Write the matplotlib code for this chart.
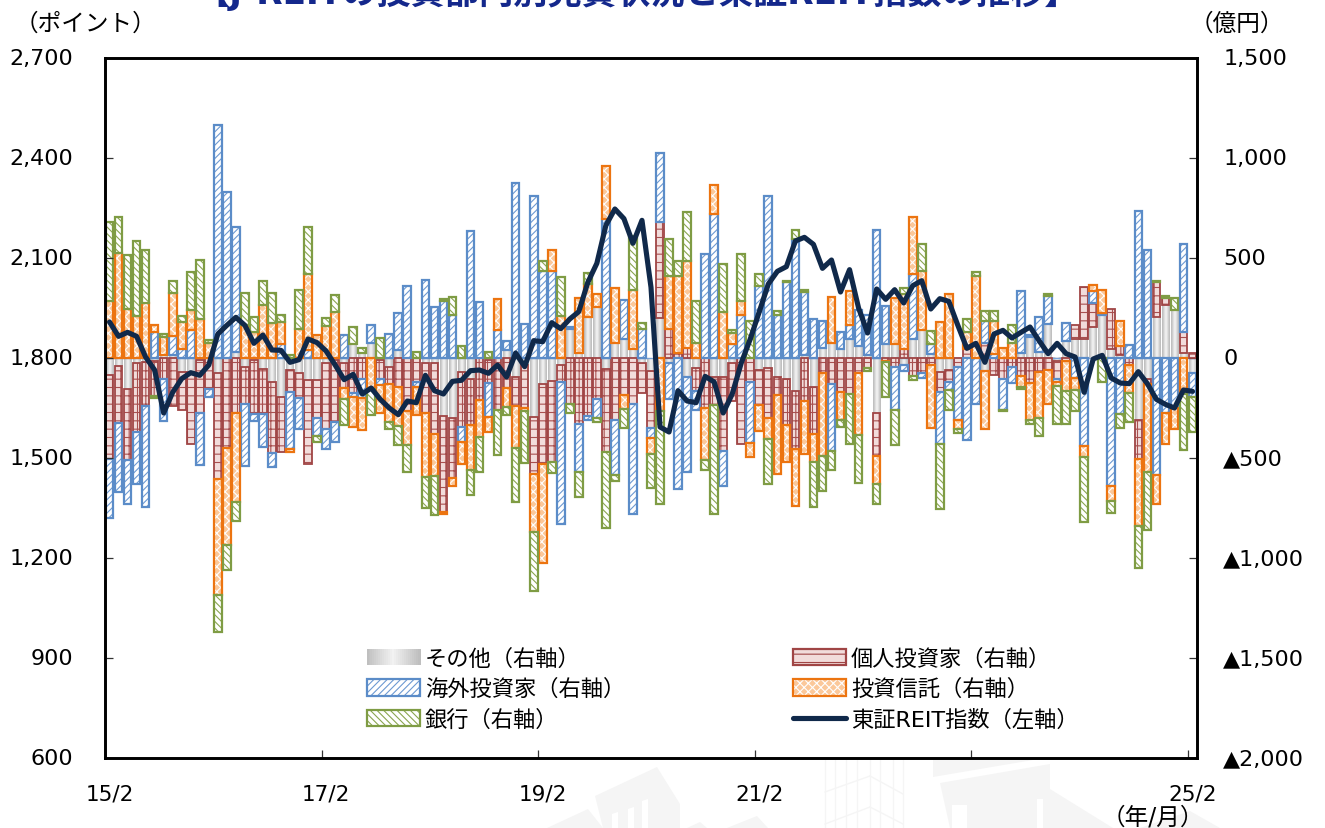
import numpy as np
import matplotlib
matplotlib.use("Agg")
import matplotlib.pyplot as plt
from matplotlib.patches import Patch, Rectangle, Polygon
from matplotlib.lines import Line2D
from matplotlib.legend_handler import HandlerBase, HandlerTuple
from matplotlib.transforms import ScaledTranslation

plt.rcParams['font.family'] = ['DejaVu Sans', 'Noto Sans CJK JP']
plt.rcParams['hatch.linewidth'] = 0.8

# 億円 (right axis), 15/2 .. 25/2 monthly
other = [-86, -40, -155, -26, -22, -17, 17, 17, -69, -69, -9, 0, -74, 0, 29, -43, -9, -55, -120, -194,
         -60, -77, -112, -112, -26, -9, -26, 69, 26, 77, -9, -43, 38, 0, 0, -26, -26, -292, -301, -72,
         -107, 0, -9, 0, 38, -95, -34, -296, -132, -115, -34, 146, 26, 206, 255, -55, 77, 95, 43, -26,
         -65, 198, -26, 0, -95, -52, 0, -95, -95, -26, 0, 0, -60, -48, -95, -103, -167, 17, -146, 52,
         77, 43, 95, 60, 17, -275, 69, 69, -34, 95, 138, 22, -69, -60, 0, 0, 0, -64, 0, 0,
         0, 26, 103, 31, 172, -17, 86, 95, 95, 155, 215, 43, 17, 0, -310, -103, 206, 267, 241, 26, -77]
individual = [-421, -287, -353, -344, -218, -172, -103, -241, -189, -361, -267, -155, -533, -452, -275, -186, -272, -225, -353, -275,
              -112, -124, -418, -189, -327, -310, -124, -177, -103, 0, -95, -86, -146, -267, -120, -249, -353, -476, -301, -272,
              -229, -212, -115, -258, -150, -146, -218, -284, -396, -406, -86, -232, -332, -292, -206, -415, -310, -186, -229, -151,
              -284, 482, 146, 26, 48, -115, -249, -141, -370, -189, -430, -120, -177, -253, -89, -232, -286, -215, -232, -77,
              -132, -172, -181, -77, -52, -215, -17, -46, 43, -91, -77, -34, -103, -60, -46, 43, 0, 77, -86, -103,
              -43, -91, -124, -69, -60, -86, -17, 69, 258, 120, 0, 203, 43, -34, -194, -29, 175, 34, 0, 103, 26]
foreign = [-292, -344, -224, -258, -507, 132, -212, 91, 43, 138, -258, -40, 1166, 829, 624, -310, -34, -163, -74, 69,
           -284, -155, 38, -89, -100, -103, 115, -17, -95, 86, -29, 120, 186, 358, -26, 392, 255, 287, 215, -77,
           633, 279, -169, 138, 48, 877, 169, 808, 435, 435, -710, 9, -236, -17, -95, 697, -275, 194, -550, 143,
           -52, 347, -181, -657, -473, -95, 521, 722, -177, 69, 215, -304, 361, 808, 215, 378, 593, 315, 194, 134,
           -335, 89, 72, 181, 198, 640, 189, -215, -31, 323, -21, 46, -258, -40, -263, -408, -232, 108, 22, -155,
           -83, 310, 14, 172, 138, -17, 91, -98, -439, 60, 9, -640, -280, 65, 734, 538, -585, -275, -249, 442, -120]
trust = [284, 525, 246, 212, 275, 34, 86, 218, 138, 100, 193, 77, -576, -482, -447, 163, 129, 263, 177, 112,
         -12, 146, 380, 115, 158, 232, -57, -150, -160, -155, -143, -193, -193, -169, -141, -318, -210, -14, -40, -107,
         -224, -184, -77, 155, -96, -210, -14, -292, -495, 107, 210, 0, 272, 163, 64, 261, 272, -67, 298, 0,
         -81, -267, 263, 384, 439, 77, -261, 141, 232, 55, 72, -69, -127, -103, -397, -184, -287, -263, -141, -413,
         227, -138, 169, -310, 0, -138, -5, 229, 275, 287, 298, -315, 181, 318, -46, 89, 409, -289, 163, 52,
         77, -52, -186, -232, -172, -22, -150, -60, -57, 31, 115, -74, 124, -143, -335, -440, -146, -155, -107, -181, 0]
bank = [396, 181, 270, 373, 263, -12, 17, 60, 29, 193, 298, 14, -189, -124, -91, 163, 74, 124, 150, 34,
        17, 193, 236, -28, 40, 81, -126, 86, 22, -129, 98, -31, -95, -132, 31, -158, -198, 10, 89, 60,
        -126, -172, 31, -227, -41, -267, -261, -294, 52, -52, 194, -43, -129, 57, -21, -378, -31, -96, 270, 34,
        -169, -464, 184, 77, 241, 206, -48, -544, 236, 14, 234, 186, 57, -227, 22, 9, 46, 7, -225, -177,
        -91, -34, -249, -236, -14, -103, -172, -172, 34, -21, 136, 69, -327, -101, -22, 65, 21, 52, 52, -9,
        89, -12, -22, -89, 9, -187, -163, -108, -325, 0, -119, -60, -72, -144, -213, -287, 5, 9, 57, -279, -172]
# ポイント (left axis)
reit = [1908, 1865, 1877, 1865, 1803, 1764, 1635, 1697, 1738, 1756, 1748, 1779, 1872, 1898, 1922, 1898, 1844, 1869, 1824, 1823,
        1787, 1795, 1857, 1846, 1821, 1779, 1735, 1751, 1692, 1710, 1676, 1650, 1630, 1671, 1666, 1748, 1702, 1692, 1730, 1733,
        1762, 1764, 1754, 1779, 1743, 1815, 1774, 1852, 1849, 1906, 1888, 1917, 1939, 2027, 2084, 2198, 2247, 2218, 2144, 2213,
        2012, 1593, 1578, 1702, 1671, 1666, 1745, 1728, 1635, 1692, 1785, 1857, 1939, 2022, 2060, 2074, 2151, 2162, 2141, 2069,
        2094, 1998, 2065, 1950, 1875, 2007, 1976, 2005, 1965, 2017, 2032, 1947, 1978, 1970, 1898, 1829, 1844, 1787, 1872, 1883,
        1860, 1877, 1893, 1852, 1813, 1844, 1813, 1803, 1697, 1797, 1808, 1740, 1725, 1723, 1759, 1723, 1676, 1661, 1650, 1704, 1700]

left_ticks = [600, 900, 1200, 1500, 1800, 2100, 2400, 2700]
left_labels = ['600', '900', '1,200', '1,500', '1,800', '2,100', '2,400', '2,700']
right_ticks = [-2000, -1500, -1000, -500, 0, 500, 1000, 1500]
right_labels = ['▲2,000', '▲1,500', '▲1,000', '▲500', '0', '500', '1,000', '1,500']
x_label_pos = [0, 24, 48, 72, 96, 120]
x_labels = ['15/2', '17/2', '19/2', '21/2', '23/2', '25/2']

W, H = 1325, 829
fig = plt.figure(figsize=(W / 100, H / 100), dpi=100)

# faint building watermark behind the plot (pixel coords)
wm = '#f5f5f5'
for pts in [[(595, 797), (657, 768), (680, 805), (680, 829), (603, 829)],
            [(547, 829), (588, 810), (603, 829)],
            [(687, 829), (700, 823), (707, 829)],
            [(727, 829), (757, 817), (768, 829)],
            [(933, 761), (1033, 761), (933, 778)],
            [(940, 784), (1050, 765), (1050, 829), (950, 829)],
            [(1050, 790), (1113, 829), (1050, 829)],
            [(1140, 829), (1190, 812), (1220, 829)]]:
    fig.patches.append(Polygon([(a / W, 1 - b / H) for a, b in pts], transform=fig.transFigure,
                               facecolor=wm, edgecolor='none', zorder=0))
for pts in [[(952, 806), (967, 806), (967, 829), (952, 829)],
            [(1037, 800), (1043, 800), (1043, 829), (1037, 829)],
            [(612, 815), (618, 813), (618, 829), (612, 829)],
            [(628, 810), (634, 808), (634, 829), (628, 829)],
            [(642, 802), (648, 800), (648, 829), (642, 829)]]:
    fig.patches.append(Polygon([(a / W, 1 - b / H) for a, b in pts], transform=fig.transFigure,
                               facecolor='white', edgecolor='none', zorder=0))
for px in [825, 835, 846, 857, 870, 880, 893, 903]:
    fig.add_artist(Line2D([px / W, px / W], [0, 1 - 761 / H], color=wm, lw=1, zorder=0))
for pts in [(825, 793, 870, 777), (870, 777, 903, 795), (825, 825, 870, 808), (870, 808, 903, 825)]:
    fig.add_artist(Line2D([pts[0] / W, pts[2] / W], [1 - pts[1] / H, 1 - pts[3] / H], color=wm, lw=1, zorder=0))

ax2 = fig.add_axes([105 / W, 1 - 759 / H, (1197 - 105) / W, 700 / H])
ax = ax2.twinx()
ax.set_zorder(ax2.get_zorder() + 1)
ax.patch.set_visible(False)

x = np.arange(len(reit))
width = 0.85
pos_base = np.zeros(len(x))
neg_base = np.zeros(len(x))

ax2.axhline(0, color='#7ba3d6', lw=1, zorder=1.5)

# gradient for その他
grad = np.array([[0.75, 0.82, 0.9, 0.95, 0.9, 0.82, 0.75]])
vals = np.array(other, dtype=float)
bot = np.where(vals >= 0, pos_base, neg_base)
for xi, v, b in zip(x, vals, bot):
    if v != 0:
        ax2.imshow(grad, cmap='gray', vmin=0, vmax=1, aspect='auto', interpolation='bilinear',
                   extent=[xi - width / 2, xi + width / 2, b, b + v], zorder=1)
pos_base += np.where(vals > 0, vals, 0)
neg_base += np.where(vals < 0, vals, 0)

series = [(individual, '#f2dcdb', '#a04545', '#a85050', '++', 1.3),
          (foreign, 'white', '#5b8cc8', '#6d9ad2', '/////', 1.6),
          (trust, '#fbc89a', '#ec7410', 'white', 'xxxx', 1.6),
          (bank, 'white', '#7f9c44', '#8aa650', '\\\\\\\\\\', 1.6)]
for vals, face, edge, hcol, hatch, lw in series:
    vals = np.array(vals, dtype=float)
    bot = np.where(vals >= 0, pos_base, neg_base)
    m = vals != 0
    ax2.bar(x[m], vals[m], width, bottom=bot[m], facecolor=face, edgecolor=hcol, hatch=hatch, lw=0, zorder=2)
    ax2.bar(x[m], vals[m], width, bottom=bot[m], facecolor='none', edgecolor=edge, lw=lw, zorder=2)
    pos_base += np.where(vals > 0, vals, 0)
    neg_base += np.where(vals < 0, vals, 0)

line, = ax.plot(x, reit, color='#10294a', lw=3.7, solid_joinstyle='round', solid_capstyle='round', zorder=5)

ax.set_ylim(600, 2700)
ax2.set_ylim(-2000, 1500)
ax2.set_xlim(-0.5, 120.5)

ax.yaxis.tick_left()
ax.set_yticks(left_ticks, left_labels)
ax.tick_params(axis='y', direction='in', length=6, width=0.9, color='#333333', labelsize=16, pad=23)
ax2.yaxis.tick_right()
ax2.set_yticks(right_ticks, right_labels)
ax2.tick_params(axis='y', direction='in', length=6, width=0.9, color='#333333', labelsize=16, pad=19)
ax2.set_xticks(x_label_pos, x_labels)
ax2.set_xticks([p - 0.5 for p in x_label_pos], minor=True)
ax2.tick_params(axis='x', which='major', length=0, labelsize=15.5, pad=18.5)
ax2.tick_params(axis='x', which='minor', direction='in', length=6, width=0.9, color='#333333')
for a in (ax, ax2):
    for s in a.spines.values():
        s.set_linewidth(1.9)
        s.set_color('black')

# labels sit a touch higher than matplotlib centres them
up = ScaledTranslation(0, 1.5 / 72, fig.dpi_scale_trans)
for lab in ax.get_yticklabels() + ax2.get_yticklabels():
    lab.set_transform(lab.get_transform() + up)


class HandlerGray(HandlerBase):
    def create_artists(self, legend, orig, xd, yd, w, h, fontsize, trans):
        out = []
        n = 27
        for k in range(n):
            g = 0.75 + 0.2 * (1 - abs(2 * k / (n - 1) - 1))
            out.append(Rectangle((xd * -1 + w * k / n, -yd), w / n + 0.5, h, facecolor=str(g),
                                 edgecolor='none', antialiased=False, transform=trans))
        return out


def key(face, edge, hcol, hatch):
    return (Patch(facecolor=face, edgecolor=hcol, hatch=hatch, lw=0),
            Patch(facecolor='none', edgecolor=edge, lw=1.6))


gray_key = Patch(color='#cccccc')
handles = [gray_key,
           key('white', '#5b8cc8', '#6d9ad2', '/////'),
           key('white', '#7f9c44', '#8aa650', '\\\\\\\\\\'),
           key('#f2dcdb', '#a04545', '#a04545', '--'),
           key('#fbc89a', '#ec7410', 'white', 'xxxx'),
           Line2D([], [], color='#10294a', lw=3.7, solid_capstyle='round')]
labels = ['その他（右軸）', '海外投資家（右軸）', '銀行（右軸）',
          '個人投資家（右軸）', '投資信託（右軸）', '東証REIT指数（左軸）']
ax.legend(handles, labels, ncol=2, frameon=False, fontsize=16,
          loc='lower left', bbox_to_anchor=(0.2395, 0.0405), borderaxespad=0, borderpad=0,
          handlelength=2.4, handleheight=0.75, handletextpad=0.22, labelspacing=0.42, columnspacing=7.55,
          handler_map={tuple: HandlerTuple(ndivide=1, pad=0), gray_key: HandlerGray()})

fig.text(637 / W, 1 - 4 / H, '【J-REITの投資部門別売買状況と東証REIT指数の推移】', color='#14288c',
         fontsize=24.7, fontweight='bold', ha='center', va='baseline')
fig.text(15 / W, 1 - 24 / H, '（ポイント）', fontsize=17, ha='left', va='center')
fig.text(1190 / W, 1 - 24 / H, '（億円）', fontsize=17, ha='left', va='center')
fig.text(1102 / W, 1 - 818 / H, '（年/月）', fontsize=17, ha='left', va='center')

fig.savefig('out.png', dpi=100)
